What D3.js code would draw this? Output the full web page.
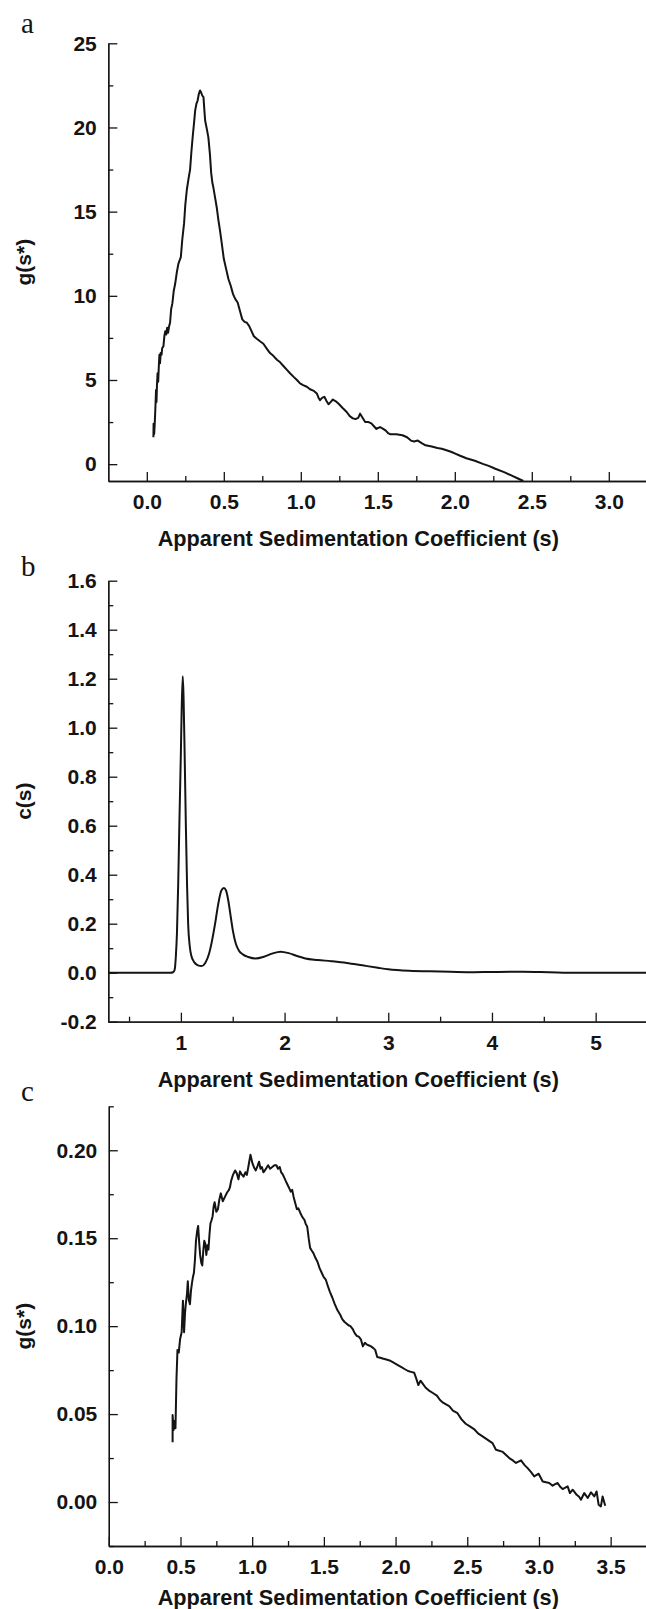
<!DOCTYPE html>
<html>
<head>
<meta charset="utf-8">
<script src="https://cdn.jsdelivr.net/npm/d3@7"></script>
<style>
  body { margin: 0; background: #fff; }
  svg { display: block; }
</style>
</head>
<body>
<div id="chart"></div>
<script>
// panel a: g(s*) against apparent sedimentation coefficient
const curveA = [
  [0.043,1.6],[0.044,2.4],[0.048,1.8],[0.052,2.5],[0.056,3.4],[0.06,4.4],[0.063,3.7],[0.066,4.7],
  [0.07,5.4],[0.074,4.9],[0.078,5.8],[0.082,6.5],[0.086,6.0],[0.09,6.6],[0.096,6.5],[0.1,6.9],
  [0.108,7.0],[0.114,7.6],[0.12,7.9],[0.126,7.7],[0.132,8.1],[0.138,7.8],[0.145,8.2],[0.151,8.4],
  [0.158,9.2],[0.166,9.55],[0.175,10.3],[0.184,10.7],[0.195,11.4],[0.205,11.9],[0.213,12.1],[0.221,12.3],
  [0.23,13.3],[0.242,14.3],[0.25,15.4],[0.26,16.3],[0.27,16.9],[0.281,17.5],[0.29,18.6],[0.298,19.45],
  [0.306,20.2],[0.314,21.0],[0.322,21.4],[0.33,21.6],[0.338,22.0],[0.346,22.2],[0.352,22.1],[0.36,21.9],
  [0.368,21.8],[0.374,21.0],[0.379,20.4],[0.39,19.9],[0.4,19.4],[0.41,18.4],[0.418,17.3],[0.426,16.7],
  [0.433,16.4],[0.444,15.8],[0.455,15.2],[0.465,14.5],[0.475,13.9],[0.487,13.1],[0.5,12.2],[0.515,11.6],
  [0.53,11.0],[0.545,10.6],[0.56,10.1],[0.575,9.8],[0.59,9.6],[0.605,9.1],[0.62,8.6],[0.635,8.45],
  [0.65,8.4],[0.665,8.2],[0.68,7.9],[0.695,7.6],[0.714,7.45],[0.735,7.3],[0.757,7.15],[0.78,6.85],
  [0.8,6.6],[0.82,6.45],[0.845,6.2],[0.866,6.05],[0.89,5.8],[0.91,5.6],[0.93,5.4],[0.952,5.2],
  [0.975,5.0],[0.995,4.8],[1.015,4.7],[1.039,4.6],[1.06,4.45],[1.085,4.35],[1.104,4.2],[1.115,3.95],
  [1.125,3.8],[1.14,3.95],[1.153,4.0],[1.167,3.75],[1.18,3.56],[1.195,3.7],[1.208,3.84],[1.225,3.75],
  [1.244,3.6],[1.27,3.35],[1.298,3.1],[1.318,2.85],[1.338,2.72],[1.355,2.68],[1.373,2.75],[1.385,3.0],
  [1.398,2.8],[1.418,2.5],[1.44,2.5],[1.458,2.42],[1.475,2.25],[1.491,2.09],[1.502,2.15],[1.515,2.2],
  [1.535,2.1],[1.552,1.99],[1.566,1.85],[1.58,1.78],[1.62,1.78],[1.66,1.72],[1.69,1.6],[1.715,1.4],
  [1.735,1.35],[1.76,1.4],[1.785,1.25],[1.81,1.12],[1.85,1.05],[1.887,0.96],[1.915,0.92],[1.941,0.84],
  [1.97,0.75],[1.995,0.66],[2.035,0.5],[2.075,0.35],[2.13,0.2],[2.182,0.02],[2.22,-0.1],[2.263,-0.27],
  [2.32,-0.47],[2.37,-0.68],[2.41,-0.85],[2.445,-1.0]
]

// panel b: c(s) distribution
const curveB = [
  [0.3,0],[0.6,0],[0.9,0],[0.925,0.002],[0.94,0.012],[0.952,0.07],[0.962,0.16],[0.974,0.36],
  [0.986,0.62],[1.0,0.9],[1.008,1.08],[1.018,1.21],[1.026,1.12],[1.036,0.9],[1.048,0.6],[1.06,0.35],
  [1.07,0.2],[1.085,0.11],[1.1,0.07],[1.13,0.042],[1.165,0.03],[1.2,0.027],[1.235,0.04],[1.27,0.075],
  [1.3,0.13],[1.33,0.2],[1.36,0.28],[1.39,0.335],[1.415,0.346],[1.435,0.336],[1.455,0.3],[1.475,0.245],
  [1.5,0.175],[1.53,0.118],[1.56,0.09],[1.6,0.074],[1.65,0.064],[1.72,0.058],[1.8,0.065],[1.88,0.078],
  [1.96,0.086],[2.04,0.08],[2.12,0.068],[2.2,0.058],[2.32,0.052],[2.45,0.047],[2.6,0.04],[2.75,0.03],
  [2.9,0.02],[3.0,0.014],[3.2,0.008],[3.5,0.005],[3.8,0.002],[4.0,0.003],[4.3,0.004],[4.55,0.002],
  [4.8,0],[5.5,0]
]

// panel c: g(s*) of the second sample
const curveC = [
  [0.445,0.034],[0.445,0.0495],[0.452,0.041],[0.458,0.046],[0.465,0.042],[0.472,0.07],[0.479,0.0865],
  [0.488,0.085],[0.497,0.0925],[0.508,0.0965],[0.517,0.1145],[0.525,0.0965],[0.532,0.108],[0.537,0.1125],
  [0.545,0.118],[0.551,0.1255],[0.558,0.115],[0.566,0.1125],[0.573,0.12],[0.58,0.1245],[0.587,0.128],
  [0.594,0.1305],[0.601,0.138],[0.608,0.1485],[0.616,0.154],[0.623,0.157],[0.63,0.148],[0.637,0.1405],
  [0.645,0.136],[0.652,0.1345],[0.659,0.143],[0.666,0.1485],[0.673,0.147],[0.68,0.1405],[0.688,0.146],
  [0.695,0.1435],[0.702,0.152],[0.709,0.1585],[0.716,0.16],[0.724,0.1625],[0.731,0.168],[0.738,0.1705],
  [0.75,0.165],[0.761,0.1665],[0.771,0.172],[0.781,0.1755],[0.795,0.171],[0.81,0.1735],[0.825,0.176],
  [0.838,0.1775],[0.845,0.179],[0.853,0.1825],[0.866,0.186],[0.881,0.1885],[0.892,0.187],[0.904,0.1835],
  [0.915,0.188],[0.925,0.1865],[0.94,0.185],[0.953,0.1875],[0.963,0.186],[0.973,0.1905],[0.988,0.1975],
  [1.002,0.1925],[1.014,0.19],[1.025,0.1885],[1.037,0.191],[1.048,0.1935],[1.058,0.1895],[1.068,0.1905],
  [1.078,0.1875],[1.088,0.1885],[1.1,0.19],[1.111,0.1915],[1.125,0.1895],[1.14,0.1905],[1.155,0.1915],
  [1.169,0.1915],[1.18,0.1895],[1.192,0.1905],[1.202,0.1875],[1.212,0.1865],[1.226,0.184],[1.24,0.1815],
  [1.255,0.179],[1.269,0.1765],[1.279,0.1775],[1.289,0.1735],[1.3,0.17],[1.312,0.1665],[1.322,0.167],
  [1.335,0.1645],[1.35,0.162],[1.364,0.1605],[1.374,0.158],[1.384,0.1565],[1.394,0.15],[1.404,0.1445],
  [1.415,0.143],[1.427,0.1415],[1.44,0.139],[1.456,0.1365],[1.47,0.133],[1.484,0.1305],[1.498,0.128],
  [1.513,0.1265],[1.527,0.123],[1.542,0.1195],[1.56,0.116],[1.576,0.1125],[1.595,0.109],[1.614,0.1065],
  [1.628,0.104],[1.643,0.1025],[1.657,0.1015],[1.671,0.1005],[1.685,0.1],[1.7,0.0985],[1.715,0.096],
  [1.729,0.0945],[1.743,0.094],[1.758,0.0925],[1.772,0.0885],[1.786,0.0905],[1.8,0.0895],[1.815,0.089],
  [1.829,0.0885],[1.845,0.0875],[1.858,0.0865],[1.872,0.0825],[1.893,0.082],[1.915,0.0815],[1.936,0.081],
  [1.958,0.0805],[1.98,0.0795],[2.001,0.0785],[2.022,0.0775],[2.044,0.0765],[2.065,0.0755],[2.087,0.0745],
  [2.108,0.074],[2.13,0.0735],[2.145,0.07],[2.159,0.0665],[2.174,0.069],[2.188,0.0675],[2.21,0.065],
  [2.231,0.0635],[2.26,0.062],[2.288,0.0605],[2.31,0.058],[2.331,0.0565],[2.352,0.0555],[2.374,0.0545],
  [2.4,0.052],[2.432,0.0505],[2.46,0.047],[2.489,0.0445],[2.518,0.043],[2.547,0.0415],[2.575,0.039],
  [2.604,0.0375],[2.64,0.0355],[2.676,0.0335],[2.7,0.0297],[2.748,0.0285],[2.793,0.025],[2.82,0.0235],
  [2.84,0.0222],[2.875,0.0237],[2.9,0.021],[2.921,0.0193],[2.945,0.017],[2.967,0.0146],[2.998,0.0161],
  [3.026,0.0117],[3.05,0.0112],[3.072,0.0108],[3.095,0.0093],[3.113,0.0102],[3.13,0.0108],[3.15,0.0085],
  [3.165,0.0074],[3.2,0.0089],[3.216,0.0051],[3.235,0.007],[3.25,0.0055],[3.263,0.0041],[3.28,0.003],
  [3.293,0.0013],[3.316,0.0051],[3.34,0.0023],[3.363,0.0055],[3.386,0.0032],[3.402,0.006],[3.416,-0.0015],
  [3.432,-0.0025],[3.444,0.0032],[3.462,-0.0021]
]

// tick values
const aXMajor = [0, 0.5, 1, 1.5, 2, 2.5, 3]
const aXMinor = [0.25, 0.75, 1.25, 1.75, 2.25, 2.75, 3.25]
const aYMajor = [0, 5, 10, 15, 20, 25]
const aYMinor = [2.5, 7.5, 12.5, 17.5, 22.5]

const bXMajor = [1, 2, 3, 4, 5]
const bXMinor = [0.5, 1.5, 2.5, 3.5, 4.5, 5.5]
const bYMajor = [-0.2, 0, 0.2, 0.4, 0.6, 0.8, 1.0, 1.2, 1.4, 1.6]
const bYMinor = [-0.1, 0.1, 0.3, 0.5, 0.7, 0.9, 1.1, 1.3, 1.5]

const cXMajor = [0, 0.5, 1, 1.5, 2, 2.5, 3, 3.5]
const cXMinor = [0.25, 0.75, 1.25, 1.75, 2.25, 2.75, 3.25, 3.75]
const cYMajor = [0, 0.05, 0.1, 0.15, 0.2]
const cYMinor = [-0.025, 0.025, 0.075, 0.125, 0.175, 0.225]

const X_TITLE = 'Apparent Sedimentation Coefficient (s)'
const SANS = "'Liberation Sans', Arial, Helvetica, sans-serif"
const SERIF = "'Liberation Serif', 'Times New Roman', serif"
const INK = '#141414'

const width = 646
const height = 1609

const svg = d3
  .select('#chart')
  .append('svg')
  .attr('width', width)
  .attr('height', height)
  .attr('viewBox', `0 0 ${width} ${height}`)

function styleAxis(g) {
  g.attr('font-family', SANS).attr('font-size', 21).attr('font-weight', 'bold')
  g.select('.domain').attr('stroke', INK).attr('stroke-width', 1.3)
  g.selectAll('.tick line').attr('stroke', INK).attr('stroke-width', 1.3)
  g.selectAll('.tick text').attr('fill', INK)
}

function drawPanel(p) {
  const x = d3.scaleLinear().domain(p.xDomain).range(p.xRange)
  const y = d3.scaleLinear().domain(p.yDomain).range(p.yRange)
  const g = svg.append('g')
  const bottom = p.yRange[0]
  const left = p.xRange[0]

  // minor ticks first, majors with labels on top
  g.append('g')
    .attr('transform', `translate(0,${bottom})`)
    .call(d3.axisBottom(x).tickValues(p.xMinor).tickSize(-5).tickSizeOuter(0).tickFormat(''))
    .call(styleAxis)
  g.append('g')
    .attr('transform', `translate(${left},0)`)
    .call(d3.axisLeft(y).tickValues(p.yMinor).tickSize(-5).tickSizeOuter(0).tickFormat(''))
    .call(styleAxis)

  g.append('g')
    .attr('transform', `translate(0,${bottom})`)
    .call(d3.axisBottom(x).tickValues(p.xMajor).tickSize(-9).tickSizeOuter(0).tickPadding(13).tickFormat(p.xFormat))
    .call(styleAxis)
  g.append('g')
    .attr('transform', `translate(${left},0)`)
    .call(d3.axisLeft(y).tickValues(p.yMajor).tickSize(-9).tickSizeOuter(0).tickPadding(11.5).tickFormat(p.yFormat))
    .call(styleAxis)

  const line = d3
    .line()
    .x((d) => x(d[0]))
    .y((d) => y(d[1]))
    .curve(p.smooth ? d3.curveMonotoneX : d3.curveLinear)

  g.append('path')
    .datum(p.data)
    .attr('fill', 'none')
    .attr('stroke', INK)
    .attr('stroke-width', 2)
    .attr('stroke-linejoin', 'round')
    .attr('d', line)

  g.append('text')
    .attr('x', 358.3)
    .attr('y', p.titleY)
    .attr('text-anchor', 'middle')
    .attr('font-family', SANS)
    .attr('font-weight', 'bold')
    .attr('font-size', 21.7)
    .attr('fill', INK)
    .text(X_TITLE)

  const yMid = (p.yRange[0] + p.yRange[1]) / 2
  g.append('text')
    .attr('transform', `translate(31,${yMid}) rotate(-90)`)
    .attr('text-anchor', 'middle')
    .attr('font-family', SANS)
    .attr('font-weight', 'bold')
    .attr('font-size', 21)
    .attr('fill', INK)
    .text(p.yTitle)

  g.append('text')
    .attr('x', 21)
    .attr('y', p.letterY)
    .attr('font-family', SERIF)
    .attr('font-size', 29)
    .attr('fill', INK)
    .text(p.letter)
}

drawPanel({
  data: curveA,
  xDomain: [-0.25, 3.25], xRange: [108.3, 647.3],
  yDomain: [-1, 25], yRange: [481, 43.3],
  xMajor: aXMajor, xMinor: aXMinor, yMajor: aYMajor, yMinor: aYMinor,
  xFormat: (d) => d.toFixed(1), yFormat: (d) => String(d),
  yTitle: 'g(s*)', letter: 'a', letterY: 33, titleY: 546
})

drawPanel({
  data: curveB, smooth: true,
  xDomain: [0.3, 5.5], xRange: [108.3, 647.5],
  yDomain: [-0.2, 1.6], yRange: [1021.7, 580.7],
  xMajor: bXMajor, xMinor: bXMinor, yMajor: bYMajor, yMinor: bYMinor,
  xFormat: (d) => String(d), yFormat: (d) => d.toFixed(1),
  yTitle: 'c(s)', letter: 'b', letterY: 576, titleY: 1086.7
})

drawPanel({
  data: curveC,
  xDomain: [0, 3.75], xRange: [108.8, 646.5],
  yDomain: [-0.025, 0.225], yRange: [1546, 1106.3],
  xMajor: cXMajor, xMinor: cXMinor, yMajor: cYMajor, yMinor: cYMinor,
  xFormat: (d) => d.toFixed(1), yFormat: (d) => d.toFixed(2),
  yTitle: 'g(s*)', letter: 'c', letterY: 1101, titleY: 1605
})
</script>
</body>
</html>
